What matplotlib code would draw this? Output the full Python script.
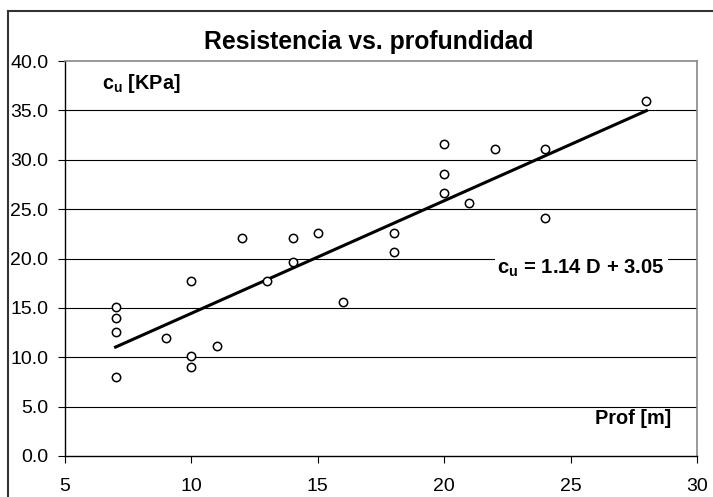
import numpy as np
import matplotlib
matplotlib.use("Agg")
import matplotlib.pyplot as plt
from matplotlib.lines import Line2D

# Datos: profundidad [m] y resistencia cu [KPa]
prof = [7, 7, 7, 7, 9, 10, 10, 10, 11, 12, 13, 14, 14, 15, 16,
        18, 18, 20, 20, 20, 21, 22, 24, 24, 28]
cu = [15.1, 14.0, 12.6, 8.0, 12.0, 17.7, 10.1, 9.0, 11.1, 22.1, 17.7, 22.1, 19.6, 22.6, 15.6,
      22.6, 20.7, 31.6, 28.6, 26.6, 25.6, 31.1, 31.1, 24.1, 36.0]

# Recta de tendencia
pendiente = 1.14
ordenada = 3.05

titulo = "Resistencia vs. profundidad"
x_ticks = [5, 10, 15, 20, 25, 30]
y_ticks = [0, 5, 10, 15, 20, 25, 30, 35, 40]

plt.rcParams['font.family'] = ['Liberation Sans', 'DejaVu Sans']
plt.rcParams['mathtext.fontset'] = 'custom'
plt.rcParams['mathtext.rm'] = 'Liberation Sans'
plt.rcParams['mathtext.bf'] = 'Liberation Sans:bold'

fig = plt.figure(figsize=(7.13, 4.97), dpi=100)
ax = fig.add_axes([65 / 713, 41 / 497, 632 / 713, 395 / 497])

# marco exterior del grafico
fig.add_artist(Line2D([8 / 713, 8 / 713], [0, 486 / 497], color='#333333', lw=1.5,
                      transform=fig.transFigure))
fig.add_artist(Line2D([8 / 713, 1], [486 / 497, 486 / 497], color='#333333', lw=1.5,
                      transform=fig.transFigure))

for y in y_ticks[1:-1]:
    ax.axhline(y, color='black', lw=0.8, zorder=1)

xs = np.array([min(prof), max(prof)])
ax.plot(xs, pendiente * xs + ordenada, color='black', lw=2.2, zorder=3)
ax.plot(prof, cu, 'o', mfc='white', mec='black', ms=6, mew=1.1, zorder=4)

ax.set_xlim(5, 30)
ax.set_ylim(0, 40)
ax.set_xticks(x_ticks)
ax.set_yticks(y_ticks)
ax.set_yticklabels([f"{v:.1f}" for v in y_ticks])
ax.tick_params(axis='x', direction='out', length=5, width=0.8, pad=11, labelsize=14)
ax.tick_params(axis='y', direction='out', length=5, width=0.8, pad=7, labelsize=14)

for lado in ['top', 'right']:
    ax.spines[lado].set_color('#888888')
    ax.spines[lado].set_linewidth(1.2)
for lado in ['left', 'bottom']:
    ax.spines[lado].set_color('black')
    ax.spines[lado].set_linewidth(1.0)

fig.text(369 / 713, 1 - 42 / 497, titulo, ha='center', va='center',
         fontsize=17.8, fontweight='bold')

ax.text(0.0585, 0.942, r'c$_{\mathbf{u}}$ [KPa]', transform=ax.transAxes,
        ha='left', va='center', fontsize=14.3, fontweight='bold')
ax.text(0.96, 0.094, 'Prof [m]', transform=ax.transAxes,
        ha='right', va='center', fontsize=14.3, fontweight='bold')
ax.text(0.949, 0.476, r'c$_{\mathbf{u}}$ = 1.14 D + 3.05', transform=ax.transAxes,
        ha='right', va='center', fontsize=14.6, fontweight='bold', zorder=5,
        bbox=dict(facecolor='white', edgecolor='none', pad=2))

plt.savefig('out.png', dpi=100)
